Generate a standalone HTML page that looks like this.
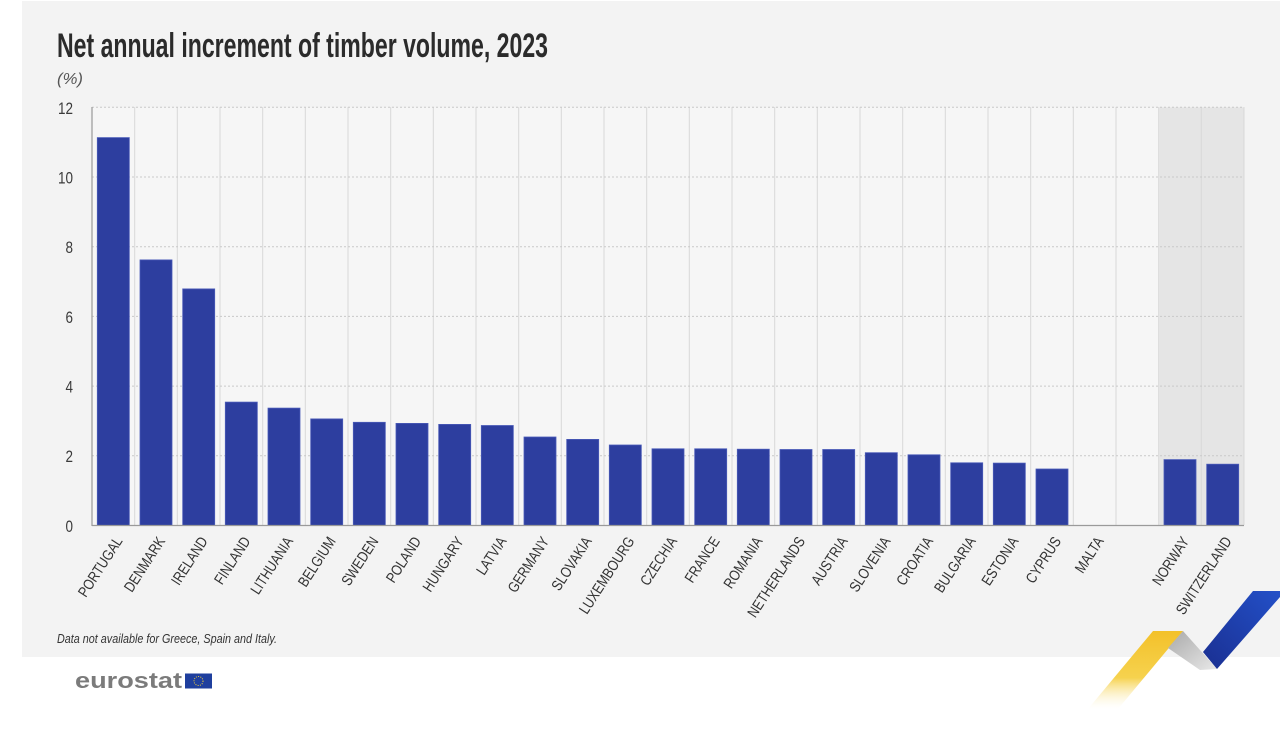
<!DOCTYPE html>
<html>
<head>
<meta charset="utf-8">
<style>
  html,body{margin:0;padding:0;background:#ffffff;}
  svg{display:block;}
  text{font-family:"Liberation Sans", Arial, sans-serif;}
</style>
</head>
<body>
<svg width="1280" height="740" viewBox="0 0 1280 740" xmlns="http://www.w3.org/2000/svg">
  <defs>
    <linearGradient id="yel" x1="0" y1="0" x2="0" y2="1">
      <stop offset="0" stop-color="#f3c12a"/>
      <stop offset="0.6" stop-color="#f6d24e"/>
      <stop offset="1" stop-color="#ffffff" stop-opacity="0.2"/>
    </linearGradient>
    <linearGradient id="gry" x1="0" y1="0" x2="1" y2="1">
      <stop offset="0" stop-color="#a9a9a9"/>
      <stop offset="1" stop-color="#e8e8e8"/>
    </linearGradient>
    <linearGradient id="blu" x1="1" y1="0" x2="0" y2="1">
      <stop offset="0" stop-color="#2350c8"/>
      <stop offset="1" stop-color="#1a2f91"/>
    </linearGradient>
  </defs>

  <!-- panel -->
  <rect x="22" y="1" width="1258" height="656" fill="#f3f3f3"/>

  <!-- title -->
  <text x="57" y="57" font-size="34" font-weight="bold" fill="#2b2b2b" textLength="491" lengthAdjust="spacingAndGlyphs">Net annual increment of timber volume, 2023</text>
  <text x="57" y="84" font-size="16" font-style="italic" fill="#555" textLength="26" lengthAdjust="spacingAndGlyphs">(%)</text>

  <!-- plot background -->
  <rect x="92" y="107.3" width="1152" height="418.2" fill="#f6f6f6"/>
  <rect x="1159.3" y="107.3" width="84.7" height="418.2" fill="#e5e5e5"/>

  <!-- vertical gridlines -->
  <g stroke="#d8d8d8" stroke-width="1">
    <line x1="134.7" y1="107" x2="134.7" y2="525"/>
    <line x1="177.3" y1="107" x2="177.3" y2="525"/>
    <line x1="220" y1="107" x2="220" y2="525"/>
    <line x1="262.7" y1="107" x2="262.7" y2="525"/>
    <line x1="305.3" y1="107" x2="305.3" y2="525"/>
    <line x1="348" y1="107" x2="348" y2="525"/>
    <line x1="390.7" y1="107" x2="390.7" y2="525"/>
    <line x1="433.3" y1="107" x2="433.3" y2="525"/>
    <line x1="476" y1="107" x2="476" y2="525"/>
    <line x1="518.7" y1="107" x2="518.7" y2="525"/>
    <line x1="561.3" y1="107" x2="561.3" y2="525"/>
    <line x1="604" y1="107" x2="604" y2="525"/>
    <line x1="646.7" y1="107" x2="646.7" y2="525"/>
    <line x1="689.3" y1="107" x2="689.3" y2="525"/>
    <line x1="732" y1="107" x2="732" y2="525"/>
    <line x1="774.7" y1="107" x2="774.7" y2="525"/>
    <line x1="817.3" y1="107" x2="817.3" y2="525"/>
    <line x1="860" y1="107" x2="860" y2="525"/>
    <line x1="902.7" y1="107" x2="902.7" y2="525"/>
    <line x1="945.3" y1="107" x2="945.3" y2="525"/>
    <line x1="988" y1="107" x2="988" y2="525"/>
    <line x1="1030.7" y1="107" x2="1030.7" y2="525"/>
    <line x1="1073.3" y1="107" x2="1073.3" y2="525"/>
    <line x1="1116" y1="107" x2="1116" y2="525"/>
    <line x1="1158.7" y1="107" x2="1158.7" y2="525"/>
    <line x1="1201.3" y1="107" x2="1201.3" y2="525"/>
    <line x1="1244" y1="107" x2="1244" y2="525"/>
  </g>

  <!-- horizontal dotted gridlines -->
  <g stroke="#c9c9c9" stroke-width="1" stroke-dasharray="2,2">
    <line x1="92" y1="107.3" x2="1244" y2="107.3"/>
    <line x1="92" y1="177" x2="1244" y2="177"/>
    <line x1="92" y1="246.7" x2="1244" y2="246.7"/>
    <line x1="92" y1="316.4" x2="1244" y2="316.4"/>
    <line x1="92" y1="386.1" x2="1244" y2="386.1"/>
    <line x1="92" y1="455.8" x2="1244" y2="455.8"/>
  </g>

  <!-- y labels -->
  <g font-size="17" fill="#3a3a3a" text-anchor="end">
    <text x="73" y="114" textLength="15" lengthAdjust="spacingAndGlyphs">12</text>
    <text x="73" y="183.5" textLength="15" lengthAdjust="spacingAndGlyphs">10</text>
    <text x="73" y="253" textLength="7.5" lengthAdjust="spacingAndGlyphs">8</text>
    <text x="73" y="323" textLength="7.5" lengthAdjust="spacingAndGlyphs">6</text>
    <text x="73" y="392.5" textLength="7.5" lengthAdjust="spacingAndGlyphs">4</text>
    <text x="73" y="462" textLength="7.5" lengthAdjust="spacingAndGlyphs">2</text>
    <text x="73" y="532" textLength="7.5" lengthAdjust="spacingAndGlyphs">0</text>
  </g>

  <!-- bars -->
  <g fill="#2d3e9f" stroke="#4a5bb8" stroke-width="0.8">
    <rect x="97.3" y="137.6" width="32" height="387.9"/>
    <rect x="140" y="259.9" width="32" height="265.6"/>
    <rect x="182.7" y="288.9" width="32" height="236.6"/>
    <rect x="225.3" y="402.1" width="32" height="123.4"/>
    <rect x="268" y="408.1" width="32" height="117.4"/>
    <rect x="310.7" y="418.9" width="32" height="106.6"/>
    <rect x="353.3" y="422.3" width="32" height="103.2"/>
    <rect x="396" y="423.4" width="32" height="102.1"/>
    <rect x="438.7" y="424.4" width="32" height="101.1"/>
    <rect x="481.3" y="425.5" width="32" height="100"/>
    <rect x="524" y="437" width="32" height="88.5"/>
    <rect x="566.7" y="439.4" width="32" height="86.1"/>
    <rect x="609.3" y="445" width="32" height="80.5"/>
    <rect x="652" y="448.8" width="32" height="76.7"/>
    <rect x="694.7" y="448.8" width="32" height="76.7"/>
    <rect x="737.3" y="449.2" width="32" height="76.3"/>
    <rect x="780" y="449.5" width="32" height="76"/>
    <rect x="822.7" y="449.5" width="32" height="76"/>
    <rect x="865.3" y="452.7" width="32" height="72.8"/>
    <rect x="908" y="454.8" width="32" height="70.7"/>
    <rect x="950.7" y="462.8" width="32" height="62.7"/>
    <rect x="993.3" y="463.1" width="32" height="62.4"/>
    <rect x="1036" y="469" width="32" height="56.5"/>
    <rect x="1164" y="459.6" width="32" height="65.9"/>
    <rect x="1206.7" y="464.2" width="32" height="61.3"/>
  </g>

  <!-- axes -->
  <line x1="92" y1="107" x2="92" y2="526" stroke="#9a9a9a" stroke-width="1.2"/>
  <line x1="92" y1="525.5" x2="1244" y2="525.5" stroke="#9a9a9a" stroke-width="1.2"/>

  <!-- x labels -->
  <g font-size="15" fill="#333" text-anchor="end">
    <text transform="translate(123,541) rotate(-57) scale(0.83,1)">PORTUGAL</text>
    <text transform="translate(165.7,541) rotate(-57) scale(0.83,1)">DENMARK</text>
    <text transform="translate(208.3,541) rotate(-57) scale(0.83,1)">IRELAND</text>
    <text transform="translate(251,541) rotate(-57) scale(0.83,1)">FINLAND</text>
    <text transform="translate(293.7,541) rotate(-57) scale(0.83,1)">LITHUANIA</text>
    <text transform="translate(336.3,541) rotate(-57) scale(0.83,1)">BELGIUM</text>
    <text transform="translate(379,541) rotate(-57) scale(0.83,1)">SWEDEN</text>
    <text transform="translate(421.7,541) rotate(-57) scale(0.83,1)">POLAND</text>
    <text transform="translate(464.3,541) rotate(-57) scale(0.83,1)">HUNGARY</text>
    <text transform="translate(507,541) rotate(-57) scale(0.83,1)">LATVIA</text>
    <text transform="translate(549.7,541) rotate(-57) scale(0.83,1)">GERMANY</text>
    <text transform="translate(592.3,541) rotate(-57) scale(0.83,1)">SLOVAKIA</text>
    <text transform="translate(635,541) rotate(-57) scale(0.83,1)">LUXEMBOURG</text>
    <text transform="translate(677.7,541) rotate(-57) scale(0.83,1)">CZECHIA</text>
    <text transform="translate(720.3,541) rotate(-57) scale(0.83,1)">FRANCE</text>
    <text transform="translate(763,541) rotate(-57) scale(0.83,1)">ROMANIA</text>
    <text transform="translate(805.7,541) rotate(-57) scale(0.83,1)">NETHERLANDS</text>
    <text transform="translate(848.3,541) rotate(-57) scale(0.83,1)">AUSTRIA</text>
    <text transform="translate(891,541) rotate(-57) scale(0.83,1)">SLOVENIA</text>
    <text transform="translate(933.7,541) rotate(-57) scale(0.83,1)">CROATIA</text>
    <text transform="translate(976.3,541) rotate(-57) scale(0.83,1)">BULGARIA</text>
    <text transform="translate(1019,541) rotate(-57) scale(0.83,1)">ESTONIA</text>
    <text transform="translate(1061.7,541) rotate(-57) scale(0.83,1)">CYPRUS</text>
    <text transform="translate(1104.3,541) rotate(-57) scale(0.83,1)">MALTA</text>
    <text transform="translate(1189.7,541) rotate(-57) scale(0.83,1)">NORWAY</text>
    <text transform="translate(1232.3,541) rotate(-57) scale(0.83,1)">SWITZERLAND</text>
  </g>

  <!-- footnote -->
  <text x="57" y="643" font-size="12.5" font-style="italic" fill="#333" textLength="220" lengthAdjust="spacingAndGlyphs">Data not available for Greece, Spain and Italy.</text>

  <!-- eurostat logo -->
  <text x="75" y="688" font-size="22" font-weight="bold" fill="#7b7b7b" textLength="107" lengthAdjust="spacingAndGlyphs">eurostat</text>
  <rect x="185" y="673.5" width="27" height="15" fill="#1f3f9e"/>
  <circle cx="198.5" cy="681" r="4.5" fill="none" stroke="#f2d03a" stroke-width="1" stroke-dasharray="1,1.3"/>

  <!-- decoration -->
  <polygon points="1153,631 1183,631 1118,709 1088,709" fill="url(#yel)"/>
  <polygon points="1183,631 1217,669 1200,670 1168,648" fill="url(#gry)"/>
  <polygon points="1253,591 1280,591 1280,597 1217,669 1203,652" fill="url(#blu)"/>
</svg>
</body>
</html>
